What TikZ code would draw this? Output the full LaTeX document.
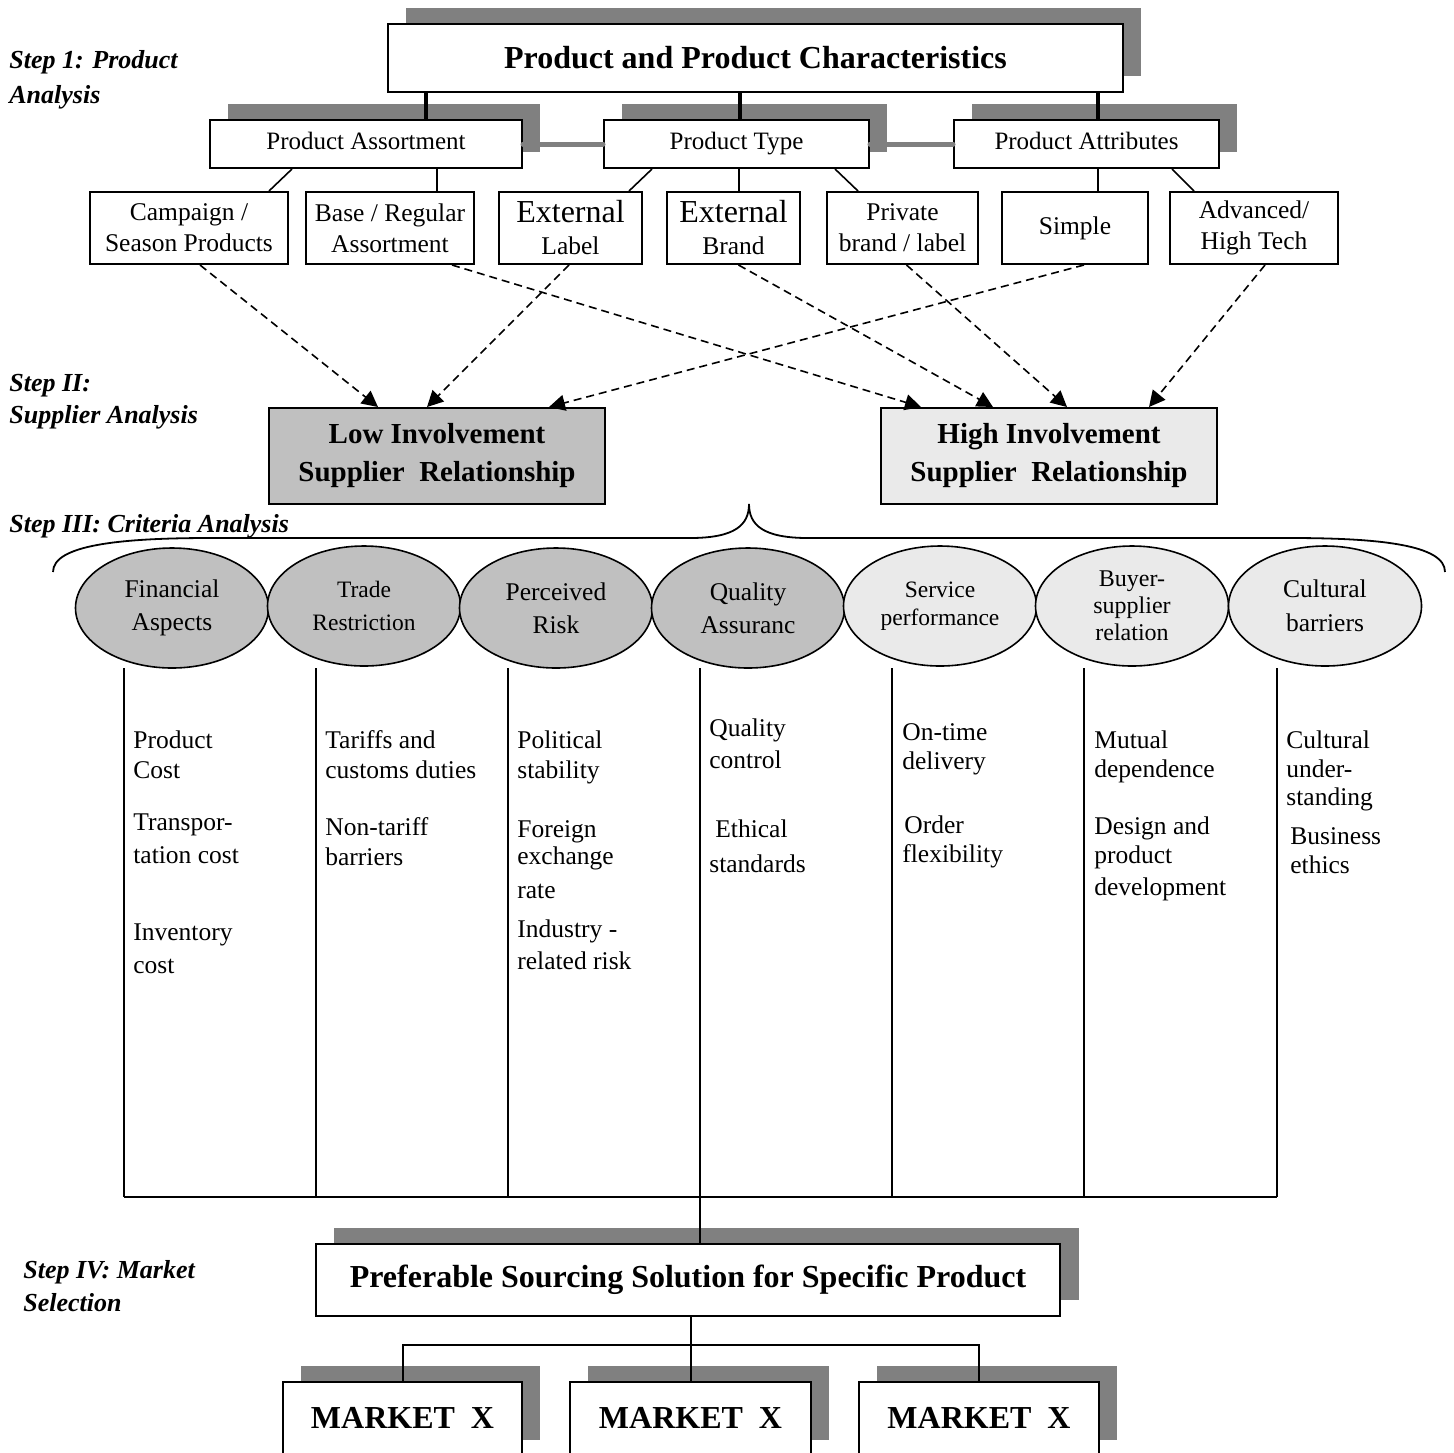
\documentclass[tikz,border=0pt]{standalone}
\usepackage{fontspec}
\setmainfont{Liberation Serif}
\usetikzlibrary{arrows.meta,shadows,shapes.geometric}
\definecolor{shgray}{RGB}{128,128,128}
\definecolor{midgray}{RGB}{192,192,192}
\definecolor{palegray}{RGB}{234,234,234}
\newcommand\fsz[2]{\fontsize{#1}{#2}\selectfont}
\begin{document}
\begin{tikzpicture}[x=0.5pt,y=-0.5pt,
  box/.style={draw=black, line width=1pt, fill=white, inner sep=0pt, align=center},
  shbox/.style={box, general shadow={fill=shgray, shadow xshift=8.75pt, shadow yshift=8pt}},
  midbox/.style={shbox, font=\fsz{12.5}{15}, minimum height=24pt, text height=8.6pt, text depth=2.7pt},
  lowbox/.style={box, fill=midgray, font=\fsz{14.5}{19}\bfseries, minimum width=168pt, minimum height=48pt},
  ell/.style={ellipse, draw=black, line width=0.8pt, inner sep=0pt, align=center,
    minimum width=96.5pt, minimum height=60pt, font=\fsz{12.75}{16.5}},
  thickconn/.style={draw=black, line width=1.75pt},
  thinconn/.style={draw=black, line width=0.8pt},
  grayconn/.style={draw=shgray, line width=2.5pt, line cap=round},
  darr/.style={draw=black, line width=0.8pt, dash pattern=on 4pt off 2.5pt, -{Triangle[length=8pt,width=8pt]}},
  steplbl/.style={font=\fsz{13}{15}\bfseries\itshape, inner sep=0pt, anchor=base west},
  coltxt/.style={font=\fsz{12.75}{15}, inner sep=0pt, anchor=base west},
  lowtxt/.style={font=\fsz{12.75}{15.5}, minimum height=36pt}
]
\path[use as bounding box, fill=white] (0,0) rectangle (1454,1452);

% ---------- Step I ----------
\node[shbox, font=\fsz{16}{19}\bfseries, minimum width=367.5pt, minimum height=34pt] (top) at (755.5,58) {Product and Product Characteristics};
\node[midbox, minimum width=156pt] (pa) at (366,144) {Product Assortment};
\node[midbox, minimum width=132.5pt] (pt) at (736.5,144) {Product Type};
\node[midbox, minimum width=132.5pt] (pat) at (1086.5,144) {Product Attributes};

\coordinate (xa) at (426,0);
\coordinate (xb) at (740,0);
\coordinate (xc) at (1098,0);
\draw[thickconn] (top.south -| xa) -- (pa.north -| xa);
\draw[thickconn] (top.south -| xb) -- (pt.north -| xb);
\draw[thickconn] (top.south -| xc) -- (pat.north -| xc);
\draw[grayconn] (pa.east) -- (pt.west);
\draw[grayconn] (pt.east) -- (pat.west);

\node[box, lowtxt, minimum width=99pt] (campaign) at (189,228) {Campaign /\\Season Products};
\node[box, lowtxt, minimum width=84pt] (base) at (390,228) {Base / Regular\\Assortment};
\node[box, lowtxt, font=\fsz{12.75}{16}, minimum width=71.5pt] (extl) at (570.5,228) {{\fsz{16}{16}External}\\Label};
\node[box, lowtxt, font=\fsz{12.75}{16}, minimum width=66.5pt] (extb) at (733.5,228) {{\fsz{16}{16}External}\\Brand};
\node[box, lowtxt, minimum width=75.5pt] (priv) at (902.5,228) {Private\\brand / label};
\node[box, lowtxt, minimum width=73pt] (simple) at (1075,228) {Simple};
\node[box, lowtxt, minimum width=84pt] (adv) at (1254,228) {Advanced/\\High Tech};

\draw[thinconn] ([xshift=-37pt]pa.south) -- ([xshift=40pt]campaign.north);
\draw[thinconn] ([xshift=35.5pt]pa.south) -- ([xshift=23.5pt]base.north);
\draw[thinconn] ([xshift=-42.25pt]pt.south) -- ([xshift=29.25pt]extl.north);
\draw[thinconn] ([xshift=1.25pt]pt.south) -- ([xshift=2.75pt]extb.north);
\draw[thinconn] ([xshift=49.25pt]pt.south) -- ([xshift=-22.25pt]priv.north);
\draw[thinconn] ([xshift=5.75pt]pat.south) -- ([xshift=11.5pt]simple.north);
\draw[thinconn] ([xshift=42.75pt]pat.south) -- ([xshift=-30pt]adv.north);

% ---------- Step II ----------
\node[lowbox] (low) at (437,456) {Low Involvement\\Supplier\ \ Relationship};
\node[lowbox, fill=palegray] (high) at (1049,456) {High Involvement\\Supplier\ \ Relationship};

\draw[darr] ([xshift=5.5pt]campaign.south) -- ([xshift=-29.5pt]low.north);
\draw[darr] ([xshift=-0.75pt]extl.south) -- ([xshift=-5pt]low.north);
\draw[darr] ([xshift=4.5pt]simple.south) -- ([xshift=56pt]low.north);
\draw[darr] ([xshift=31pt]base.south) -- ([xshift=-64pt]high.north);
\draw[darr] ([xshift=2.5pt]extb.south) -- ([xshift=-28pt]high.north);
\draw[darr] ([xshift=2pt]priv.south) -- ([xshift=9pt]high.north);
\draw[darr] ([xshift=5.5pt]adv.south) -- ([xshift=50pt]high.north);

% ---------- Step III ----------
\draw[line width=0.9pt] (53,572) .. controls (53,545) and (120,538) .. (210,538) -- (690,538)
  .. controls (735,538) and (749,525) .. (749,504)
  .. controls (749,525) and (763,538) .. (808,538) -- (1290,538)
  .. controls (1380,538) and (1445,545) .. (1445,572);

\node[ell, fill=midgray] (e1) at (172,608) {Financial\\Aspects};
\node[ell, fill=midgray, font=\fsz{11.75}{16.5}] (e2) at (364,606) {Trade\\Restriction};
\node[ell, fill=midgray] (e3) at (556,608) {Perceived\\Risk};
\node[ell, fill=midgray] (e4) at (748,608) {Quality\\Assuranc};
\node[ell, fill=palegray, font=\fsz{11.75}{14}] (e5) at (940,606) {Service\\performance};
\node[ell, fill=palegray, font=\fsz{12}{13.5}] (e6) at (1132,606) {Buyer-\\supplier\\relation};
\node[ell, fill=palegray, font=\fsz{12.75}{17}] (e7) at (1325,606) {Cultural\\barriers};

\foreach \cx [count=\i] in {124,316,508,700,892,1084,1277} {
  \coordinate (ct\i) at (\cx,668);
  \coordinate (cb\i) at (\cx,1197);
  \draw[thinconn] (ct\i) -- (cb\i);
}
\draw[draw=black, line width=1pt] (cb1) -- (cb7);

\foreach \cx/\cy/\txt [count=\i] in {
  133/748/Product, 133/778/Cost, 133/830/Transpor-, 133/863/tation cost, 133/940/Inventory, 133/973/cost,
  325/748/Tariffs and, 325/778/customs duties, 325/835/Non-tariff, 325/865/barriers,
  517/748/Political, 517/778/stability, 517/837/Foreign, 517/864/exchange, 517/898/rate, 517/937/Industry -, 517/969/related risk,
  709/736/Quality, 709/768/control, 715/837/Ethical, 709/872/standards,
  902/740/On-time, 902/769/delivery, 904/833/Order, 902/862/flexibility,
  1094/748/Mutual, 1094/777/dependence, 1094/834/Design and, 1094/863/product, 1094/895/development,
  1286/748/Cultural, 1286/777/under-, 1286/805/standing, 1290/844/Business, 1290/873/ethics} {
  \node[coltxt] (ctx\i) at (\cx,\cy) {\txt};
}

% ---------- Step IV ----------
\node[shbox, font=\fsz{16}{19}\bfseries, minimum width=372pt, minimum height=36pt,
  general shadow={fill=shgray, shadow xshift=9.5pt, shadow yshift=8pt}] (pref) at (688,1280) {Preferable Sourcing Solution for Specific Product};
\draw[thinconn] (cb4) -- (cb4 |- pref.north);

\node[shbox, font=\fsz{16}{19}\bfseries, minimum width=119.5pt, minimum height=37pt] (m1) at (402.5,1419) {\raisebox{1.5pt}{MARKET\ \ X}};
\node[shbox, font=\fsz{16}{19}\bfseries, minimum width=120.5pt, minimum height=37pt] (m2) at (690.5,1419) {\raisebox{1.5pt}{MARKET\ \ X}};
\node[shbox, font=\fsz{16}{19}\bfseries, minimum width=120pt, minimum height=37pt] (m3) at (979,1419) {\raisebox{1.5pt}{MARKET\ \ X}};

\coordinate (tj) at ([yshift=-14pt]pref.south);
\draw[draw=black, line width=1pt] (m2.north |- pref.south) -- (m2.north);
\draw[draw=black, line width=1pt] (m1.north) |- (tj) -| (m3.north);

\node[steplbl] (s1a) at (9,68) {Step 1: Product};
\node[steplbl] (s1b) at (9,103) {Analysis};
\node[steplbl] (s2a) at (9,391) {Step II:};
\node[steplbl] (s2b) at (9,423) {Supplier Analysis};
\node[steplbl] (s3) at (9,532) {Step III: Criteria Analysis};
\node[steplbl] (s4a) at (23,1278) {Step IV: Market};
\node[steplbl] (s4b) at (23,1311) {Selection};
\end{tikzpicture}
\end{document}
